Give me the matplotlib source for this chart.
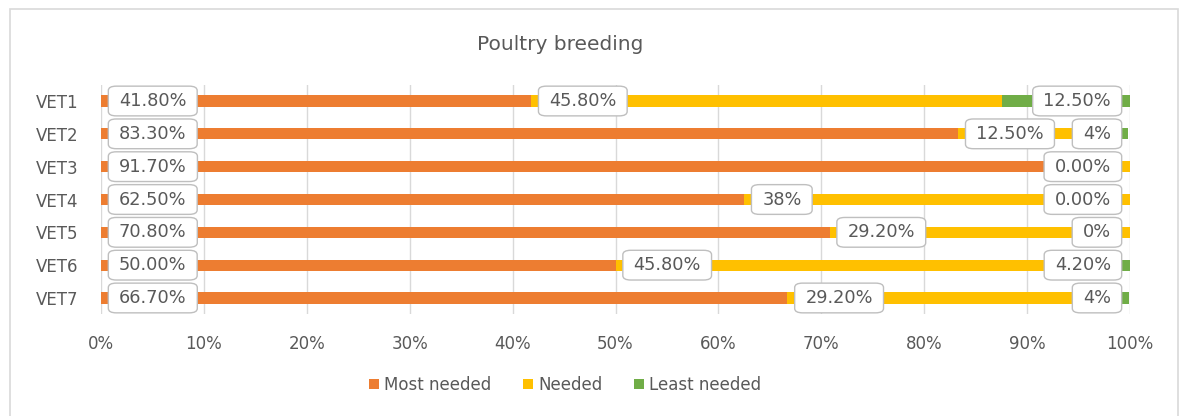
import matplotlib
matplotlib.use("Agg")
import matplotlib.pyplot as plt
from matplotlib.patches import Rectangle

# Survey shares per vet (percent)
categories = ["VET1", "VET2", "VET3", "VET4", "VET5", "VET6", "VET7"]
most_needed = [41.8, 83.3, 91.7, 62.5, 70.8, 50.0, 66.7]
needed = [45.8, 12.5, 8.3, 38.0, 29.2, 45.8, 29.2]
least_needed = [12.5, 4.0, 0.0, 0.0, 0.0, 4.2, 4.0]

# Data label texts as printed on the chart (None = no label)
most_labels = ["41.80%", "83.30%", "91.70%", "62.50%", "70.80%", "50.00%", "66.70%"]
needed_labels = ["45.80%", "12.50%", None, "38%", "29.20%", "45.80%", "29.20%"]
least_labels = ["12.50%", "4%", "0.00%", "0.00%", "0%", "4.20%", "4%"]

series_names = ["Most needed", "Needed", "Least needed"]
xticks = [0, 10, 20, 30, 40, 50, 60, 70, 80, 90, 100]
xtick_labels = ["0%", "10%", "20%", "30%", "40%", "50%", "60%", "70%", "80%", "90%", "100%"]

colors = ["#ED7D31", "#FFC000", "#70AD47"]
text_color = "#595959"
grid_color = "#D9D9D9"

W, H = 1179, 416
fig = plt.figure(figsize=(W / 100, H / 100), dpi=100)
fig.patch.set_facecolor("white")

# outer chart border
fig.add_artist(Rectangle((10 / W, -0.01), 1168 / W, (H - 9) / H + 0.01,
                         transform=fig.transFigure, fill=False,
                         edgecolor="#D9D9D9", lw=1.2))

ax = fig.add_axes([101 / W, (H - 314.4) / H, 1029 / W, 229.8 / H])
ypos = list(range(len(categories)))

bar_h = 0.34
left = [0.0] * len(categories)
series = [most_needed, needed, least_needed]
for vals, col, name in zip(series, colors, series_names):
    ax.barh(ypos, vals, left=left, height=bar_h, color=col, label=name, zorder=2)
    left = [l + v for l, v in zip(left, vals)]

ax.set_xlim(0, 100)
ax.set_ylim(len(categories) - 0.5, -0.5)
ax.set_xticks(xticks)
ax.set_xticklabels(xtick_labels)
ax.set_yticks(ypos)
ax.set_yticklabels(categories)
ax.tick_params(axis="both", length=0, labelsize=12, labelcolor=text_color)
ax.tick_params(axis="x", pad=15)
ax.tick_params(axis="y", pad=16)
ax.xaxis.grid(True, color=grid_color, lw=1, zorder=0)
ax.set_axisbelow(True)
for s in ax.spines.values():
    s.set_visible(False)

fs = 12.8
box = dict(boxstyle="round,pad=0.6,rounding_size=0.45", mutation_aspect=0.55,
           facecolor="white", edgecolor="#BFBFBF", lw=1)

def put_left(x, y, txt):
    ax.annotate(txt, xy=(x, y), xytext=(18, 0), textcoords="offset pixels",
                ha="left", va="center", fontsize=fs, color=text_color,
                bbox=box, zorder=5, annotation_clip=False)

# labels for the first two series sit just after the segment start
for i, y in enumerate(ypos):
    put_left(0, y, most_labels[i])
    if needed_labels[i] is not None:
        put_left(most_needed[i], y, needed_labels[i])
    # least-needed labels line up near the right end
    ax.annotate(least_labels[i], xy=(100, y), xytext=(-19, 0),
                textcoords="offset pixels", ha="right", va="center",
                fontsize=fs, color=text_color, bbox=box, zorder=5,
                annotation_clip=False)

fig.text(560 / W, (H - 45) / H, "Poultry breeding", ha="center", va="center",
         fontsize=14.5, color=text_color)

handles, labels = ax.get_legend_handles_labels()
fig.legend(handles, labels, loc="center", bbox_to_anchor=(565 / W, (H - 385) / H),
           ncol=3, frameon=False, fontsize=12, labelcolor=text_color,
           handlelength=0.6, handleheight=0.6, handletextpad=0.3,
           columnspacing=1.9)

fig.savefig("out.png", dpi=100, facecolor="white")
